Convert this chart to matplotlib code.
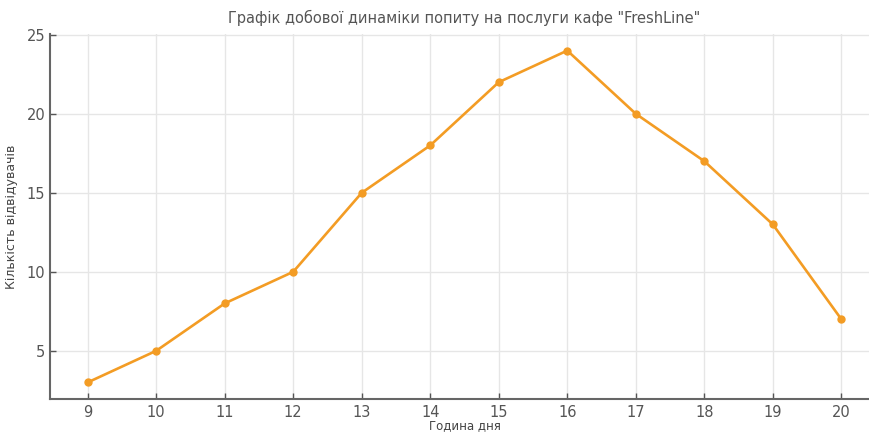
import matplotlib
matplotlib.use("Agg")
import matplotlib.pyplot as plt

hours = [9, 10, 11, 12, 13, 14, 15, 16, 17, 18, 19, 20]
visitors = [3, 5, 8, 10, 15, 18, 22, 24, 20, 17, 13, 7]
title = 'Графік добової динаміки попиту на послуги кафе "FreshLine"'
xlabel = 'Година дня'
ylabel = 'Кількість відвідувачів'

plt.rcParams['font.family'] = ['DejaVu Sans']
fig = plt.figure(figsize=(8.69, 4.34), dpi=100)
ax = fig.add_axes([50/869, 35/434, 829/869, 365/434])

ax.plot(hours, visitors, color='#f39c24', linewidth=1.9, marker='o', markersize=5)
ax.set_xticks(hours)
ax.set_yticks([5, 10, 15, 20, 25])
ax.set_ylim(1.95, 25.05)
ax.set_xlim(8.45, 20.55)

ax.grid(True, color='#e6e6e6', linewidth=1)
ax.set_axisbelow(True)
for s in ['top', 'right']:
    ax.spines[s].set_visible(False)
for s in ['left', 'bottom']:
    ax.spines[s].set_color('#666666')
    ax.spines[s].set_linewidth(1.5)
ax.tick_params(direction='in', colors='#555555', labelsize=10.5, length=4, width=1)
ax.tick_params(axis='x', pad=4)

ax.set_title(title, fontsize=10.5, color='#555555', pad=8)
ax.set_xlabel(xlabel, fontsize=8.5, color='#444444', labelpad=0)
ax.set_ylabel(ylabel, fontsize=9, color='#444444', labelpad=6)

fig.savefig('out.png', dpi=100)
